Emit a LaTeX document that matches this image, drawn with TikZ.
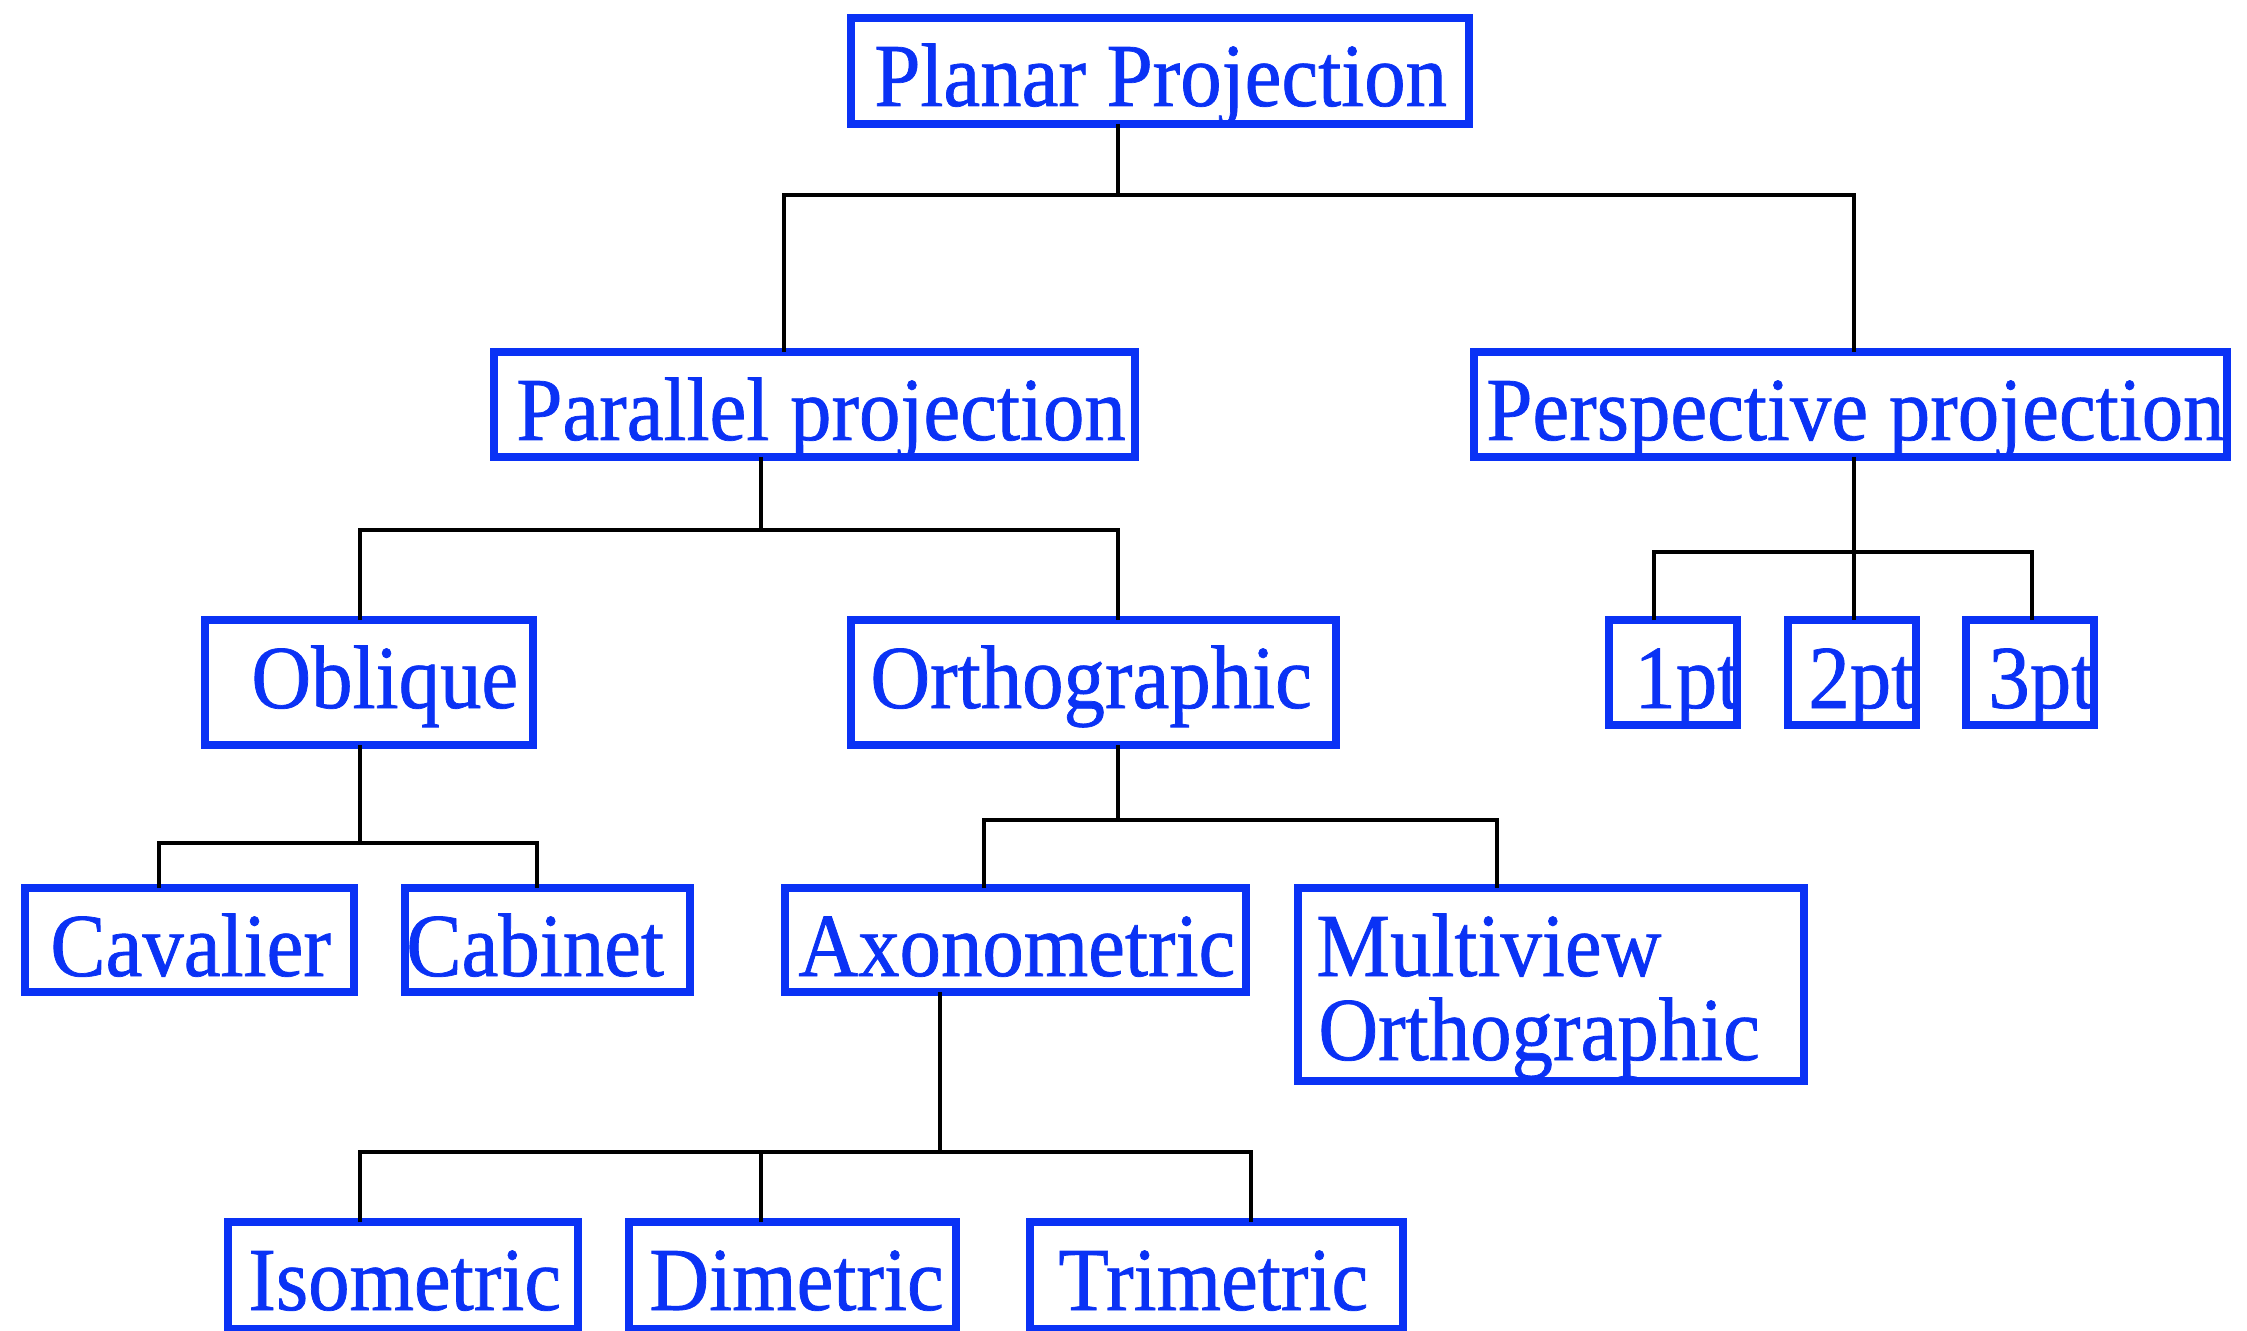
\documentclass[tikz,border=0pt]{standalone}
\usepackage{fontspec}
\setmainfont[FakeStretch=0.92,FakeBold=0.8]{Liberation Serif}
\usetikzlibrary{fit}
\definecolor{pblue}{RGB}{10,50,245}
\begin{document}
\begin{tikzpicture}[x=0.5pt,y=-0.5pt,
  box/.style={draw=pblue,line width=4pt,inner sep=0pt,outer sep=0pt},
  lbl/.style={text=pblue,inner sep=0pt,anchor=base west,font=\fontsize{45}{50}\selectfont},
  conn/.style={draw=black,line width=1.6pt}]
\useasboundingbox (0,0) rectangle (2247,1331);
% junction coordinates
\coordinate (jA) at (1118,195);
\coordinate (jA1) at (784,195);
\coordinate (jA2) at (1854,195);
\coordinate (jB) at (761,530);
\coordinate (jB1) at (360,530);
\coordinate (jB2) at (1118,530);
\coordinate (jC) at (1854,552);
\coordinate (jC1) at (1654,552);
\coordinate (jC3) at (2032,552);
\coordinate (jD) at (360,843);
\coordinate (jD1) at (159,843);
\coordinate (jD2) at (537,843);
\coordinate (jE) at (1118,820);
\coordinate (jE1) at (984,820);
\coordinate (jE2) at (1497,820);
\coordinate (jF) at (940,1152);
\coordinate (jF1) at (360,1152);
\coordinate (jF2) at (761,1152);
\coordinate (jF3) at (1251,1152);
% boxes
\node[box,fit={(851,18)(1469,124)}] (planar) {};
\node[box,fit={(494,352)(1135,457)}] (parallel) {};
\node[box,fit={(1474,352)(2227,457)}] (persp) {};
\node[box,fit={(205,620)(533,745)}] (oblique) {};
\node[box,fit={(851,620)(1336,745)}] (ortho) {};
\node[box,fit={(1609,620)(1737,725)}] (p1) {};
\node[box,fit={(1788,620)(1916,725)}] (p2) {};
\node[box,fit={(1966,620)(2094,725)}] (p3) {};
\node[box,fit={(25,888)(354,992)}] (cavalier) {};
\node[box,fit={(405,888)(690,992)}] (cabinet) {};
\node[box,fit={(785,888)(1246,992)}] (axono) {};
\node[box,fit={(1298,888)(1804,1081)}] (multi) {};
\node[box,fit={(228,1222)(578,1329)}] (iso) {};
\node[box,fit={(629,1222)(956,1329)}] (dim) {};
\node[box,fit={(1030,1222)(1403,1329)}] (tri) {};
% connectors
\draw[conn] (jA |- planar.south) -- (jA);
\draw[conn] (jA1 |- parallel.north) -- (jA1) -- (jA2) -- (jA2 |- persp.north);
\draw[conn] (jB |- parallel.south) -- (jB);
\draw[conn] (jB1 |- oblique.north) -- (jB1) -- (jB2) -- (jB2 |- ortho.north);
\draw[conn] (jC |- persp.south) -- (jC |- p2.north);
\draw[conn] (jC1 |- p1.north) -- (jC1) -- (jC3) -- (jC3 |- p3.north);
\draw[conn] (jD |- oblique.south) -- (jD);
\draw[conn] (jD1 |- cavalier.north) -- (jD1) -- (jD2) -- (jD2 |- cabinet.north);
\draw[conn] (jE |- ortho.south) -- (jE);
\draw[conn] (jE1 |- axono.north) -- (jE1) -- (jE2) -- (jE2 |- multi.north);
\draw[conn] (jF |- axono.south) -- (jF);
\draw[conn] (jF1 |- iso.north) -- (jF1) -- (jF3) -- (jF3 |- tri.north);
\draw[conn] (jF2) -- (jF2 |- dim.north);
% labels
\node[lbl] (tplanar) at (874,106) {Planar Projection};
\node[lbl] (tparallel) at (516,440) {Parallel projection};
\node[lbl] (tpersp) at (1486,440) {Perspective projection};
\node[lbl] (toblique) at (251,708) {Oblique};
\node[lbl] (tortho) at (870,708) {Orthographic};
\node[lbl] (tp1) at (1634,708) {1pt};
\node[lbl] (tp2) at (1808,708) {2pt};
\node[lbl] (tp3) at (1988,708) {3pt};
\node[lbl] (tcavalier) at (50,976) {Cavalier};
\node[lbl] (tcabinet) at (406,976) {Cabinet};
\node[lbl] (taxono) at (798,976) {Axonometric};
\node[lbl] (tmulti1) at (1316,976) {Multiview};
\node[lbl] (tmulti2) at (1318,1060) {Orthographic};
\node[lbl] (tiso) at (248,1310) {Isometric};
\node[lbl] (tdim) at (649,1310) {Dimetric};
\node[lbl] (ttri) at (1058,1310) {Trimetric};
\end{tikzpicture}
\end{document}
